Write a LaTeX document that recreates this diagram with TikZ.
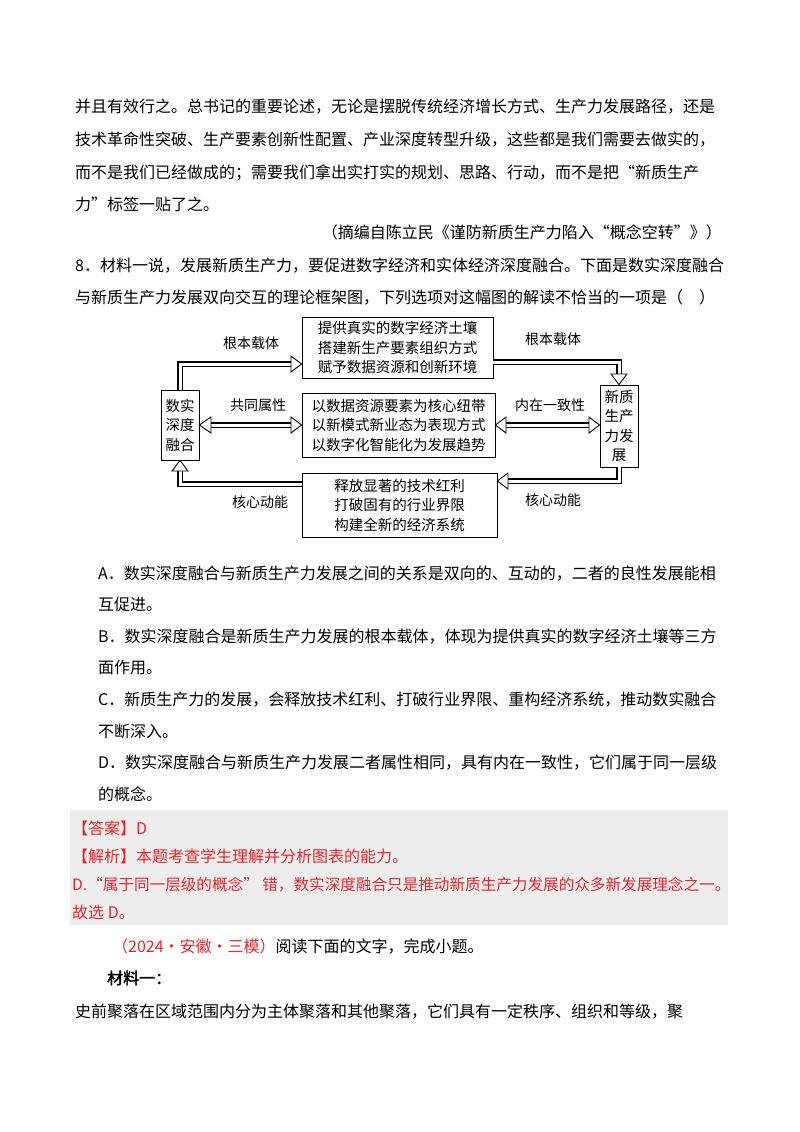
\documentclass[tikz,border=0pt]{standalone}
\usepackage{fontspec}
\setmainfont{Noto Sans CJK SC}
\newfontfamily\boldcjk[FakeBold=2]{Noto Sans CJK SC}
\definecolor{ansred}{HTML}{E3262B}
\definecolor{ansgray}{HTML}{EDEDED}
\tikzset{
 body/.style={anchor=base west,inner sep=0pt,font=\fontsize{16}{16}\selectfont},
 dlab/.style={inner sep=0pt,font=\fontsize{14}{14}\selectfont},
 dbox/.style={draw,line width=0.8pt,inner sep=0pt,align=center,font=\fontsize{14.5}{19.5}\selectfont},
 hol/.style={line width=3pt,white,preaction={draw,black,line width=5.6pt}},
 headst/.style={draw=black,fill=white,line width=0.9pt,line join=miter}
}
\begin{document}
\begin{tikzpicture}[x=1pt,y=-1pt]
\useasboundingbox (0,0) rectangle (800,1132);
\fill[white] (0,0) rectangle (800,1132);
% body text
\node[body] (l1) at (75,112) {并且有效行之。总书记的重要论述，无论是摆脱传统经济增长方式、生产力发展路径，还是};
\node[body] (l2) at (75,145) {技术革命性突破、生产要素创新性配置、产业深度转型升级，这些都是我们需要去做实的，};
\node[body] (l3) at (75,178) {而不是我们已经做成的；需要我们拿出实打实的规划、思路、行动，而不是把“新质生产};
\node[body] (l4) at (75,210) {力”标签一贴了之。};
\node[body,anchor=base east] (l5) at (722,238) {（摘编自陈立民《谨防新质生产力陷入“概念空转”》）};
\node[body] (l6) at (75,271) {8．材料一说，发展新质生产力，要促进数字经济和实体经济深度融合。下面是数实深度融合};
\node[body] (l7) at (75,303) {与新质生产力发展双向交互的理论框架图，下列选项对这幅图的解读不恰当的一项是（　）};
% diagram boxes
\node[dbox,minimum width=38pt,minimum height=70pt] (L) at (180,425) {数实\\深度\\融合};
\node[dbox,minimum width=191pt,minimum height=61pt] (T) at (397.5,347.5) {提供真实的数字经济土壤\\搭建新生产要素组织方式\\赋予数据资源和创新环境};
\node[dbox,minimum width=193pt,minimum height=64pt] (M) at (398.5,425) {以数据资源要素为核心纽带\\以新模式新业态为表现方式\\以数字化智能化为发展趋势};
\node[dbox,minimum width=195pt,minimum height=64pt] (B) at (399.5,505) {释放显著的技术红利\\打破固有的行业界限\\构建全新的经济系统};
\node[dbox,minimum width=38pt,minimum height=82pt] (R) at (619,426) {新质\\生产\\力发\\展};
% arrow coordinates
\coordinate (a1s) at (L.north);
\coordinate (a1c) at (180,364);
\coordinate (a1e) at (291,364);
\coordinate (a2s) at (T.east |- 0,362);
\coordinate (a2c) at (619,362);
\coordinate (a2e) at (619,374);
\coordinate (a3s) at (211,425);
\coordinate (a3e) at (291,425);
\coordinate (a4s) at (506,425);
\coordinate (a4e) at (589,425);
\coordinate (a5s) at (R.south);
\coordinate (a5c) at (619,481);
\coordinate (a5e) at (508,481);
\coordinate (a6s) at (B.west |- 0,484);
\coordinate (a6c) at (180,484);
\coordinate (a6e) at (180,471);
\draw[hol] (a1s) -- (a1c) -- (a1e);
\draw[hol] (a2s) -- (a2c) -- (a2e);
\draw[hol] (a3s) -- (a3e);
\draw[hol] (a4s) -- (a4e);
\draw[hol] (a5s) -- (a5c) -- (a5e);
\draw[hol] (a6s) -- (a6c) -- (a6e);
% heads
\draw[headst] (291,356) -- (T.west |- 0,364) -- (291,372) -- cycle;
\draw[headst] (611,374) -- (R.north) -- (627,374) -- cycle;
\draw[headst] (291,417) -- (M.west) -- (291,433) -- cycle;
\draw[headst] (211,417) -- (L.east) -- (211,433) -- cycle;
\draw[headst] (506,417) -- (M.east) -- (506,433) -- cycle;
\draw[headst] (589,417) -- (R.west |- 0,425) -- (589,433) -- cycle;
\draw[headst] (508,473) -- (B.east |- 0,481) -- (508,489) -- cycle;
\draw[headst] (172,471) -- (L.south) -- (188,471) -- cycle;
% labels
\node[dlab] (t1) at (251,343) {根本载体};
\node[dlab] (t2) at (553,339) {根本载体};
\node[dlab] (t3) at (258,405) {共同属性};
\node[dlab] (t4) at (550,405) {内在一致性};
\node[dlab] (t5) at (260,502) {核心动能};
\node[dlab] (t6) at (553,500) {核心动能};
% options
\node[body] (oa1) at (98,579) {A．数实深度融合与新质生产力发展之间的关系是双向的、互动的，二者的良性发展能相};
\node[body] (oa2) at (98,610) {互促进。};
\node[body] (ob1) at (98,642) {B．数实深度融合是新质生产力发展的根本载体，体现为提供真实的数字经济土壤等三方};
\node[body] (ob2) at (98,673) {面作用。};
\node[body] (oc1) at (98,705) {C．新质生产力的发展，会释放技术红利、打破行业界限、重构经济系统，推动数实融合};
\node[body] (oc2) at (98,737) {不断深入。};
\node[body] (od1) at (98,768) {D．数实深度融合与新质生产力发展二者属性相同，具有内在一致性，它们属于同一层级};
\node[body] (od2) at (98,800) {的概念。};
% answer block
\fill[ansgray] (70,810) rectangle (728,925);
\node[body,text=ansred] (an1) at (72,834) {【答案】D};
\node[body,text=ansred] (an2) at (72,862) {【解析】本题考查学生理解并分析图表的能力。};
\node[body,text=ansred,font=\fontsize{15.6}{16}\selectfont] (an3) at (72,890) {D.“属于同一层级的概念” 错，数实深度融合只是推动新质生产力发展的众多新发展理念之一。};
\node[body,text=ansred] (an4) at (72,918) {故选 D。};
\node[body] (q1) at (112,952) {\textcolor{ansred}{（2024·安徽·三模）}阅读下面的文字，完成小题。};
\node[body,font=\fontsize{16}{16}\selectfont\boldcjk] (q2) at (107,984) {材料一：};
\node[body] (q3) at (75,1017) {史前聚落在区域范围内分为主体聚落和其他聚落，它们具有一定秩序、组织和等级，聚};
\end{tikzpicture}
\end{document}
